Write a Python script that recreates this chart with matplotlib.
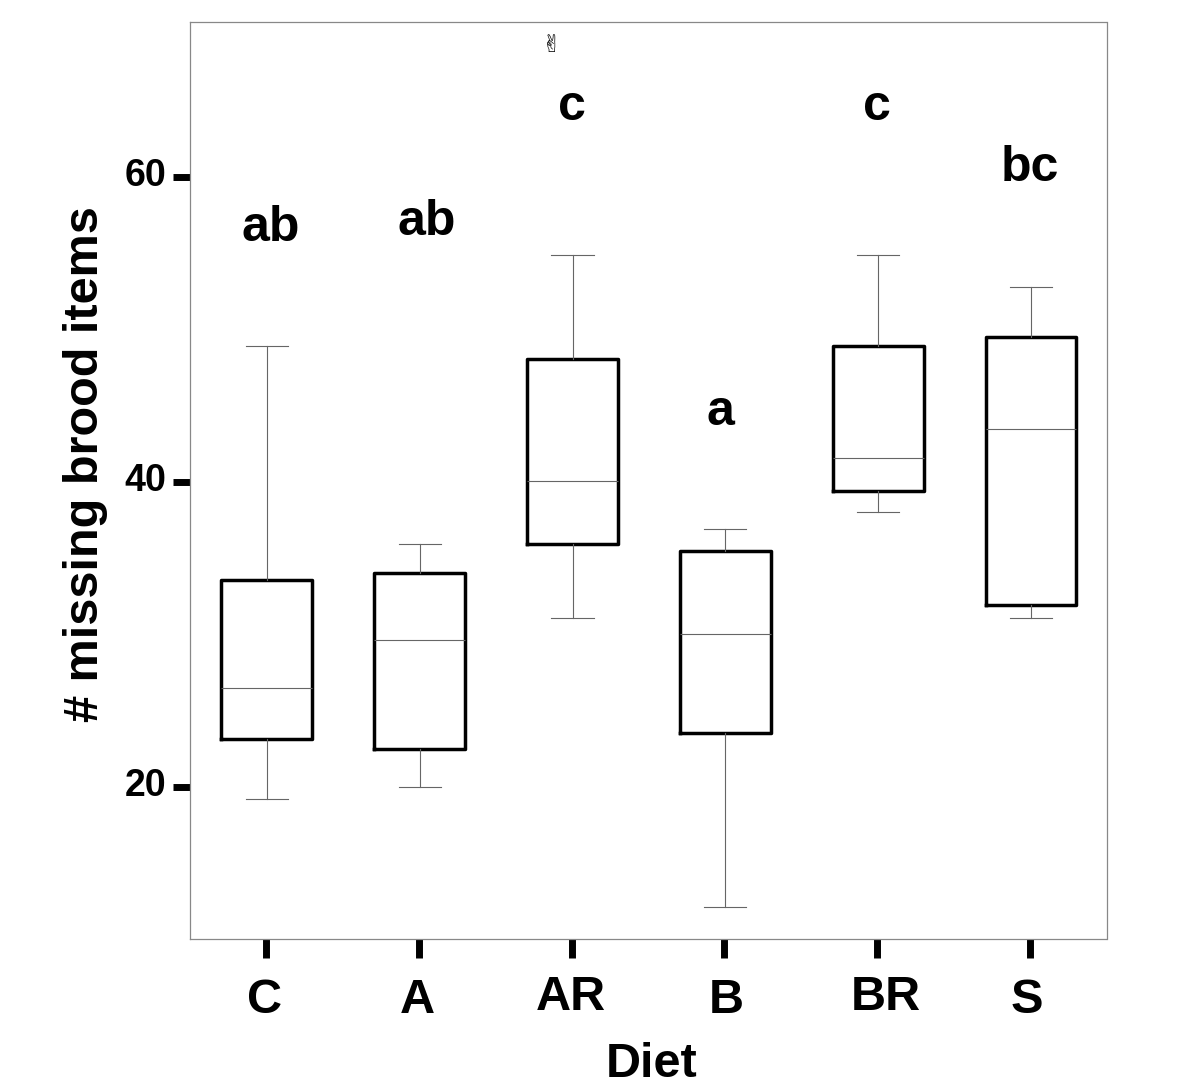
import matplotlib
matplotlib.use('Agg')
import matplotlib.pyplot as plt
from matplotlib.transforms import ScaledTranslation

diets = ['C', 'A', 'AR', 'B', 'BR', 'S']
whisker_low = [19.2, 20.0, 31.1, 12.1, 38.0, 31.1]
q1 = [23.1, 22.5, 35.9, 23.5, 39.4, 31.9]
medians = [26.5, 29.6, 40.1, 30.0, 41.6, 43.5]
q3 = [33.6, 34.0, 48.1, 35.5, 48.9, 49.5]
whisker_high = [48.9, 35.9, 54.9, 36.9, 54.9, 52.8]
letters = ['ab', 'ab', 'c', 'a', 'c', 'bc']
letter_x = [1.03, 2.055, 3.0, 3.975, 4.995, 6.0]
letter_y = [56.7, 57.1, 64.6, 44.6, 64.6, 60.6]
yticks = [20, 40, 60]

plt.rcParams['font.family'] = ['Liberation Sans', 'DejaVu Sans']

fig = plt.figure(figsize=(12, 10.91), dpi=100)
ax = fig.add_axes([189.5 / 1200, 1 - 939 / 1091, 917 / 1200, 917 / 1091])

stats = []
for i in range(len(diets)):
    stats.append({'whislo': whisker_low[i], 'q1': q1[i], 'med': medians[i],
                  'q3': q3[i], 'whishi': whisker_high[i], 'fliers': []})

x = list(range(1, len(diets) + 1))
ax.bxp(stats, positions=[p + 0.006 for p in x], widths=0.595, capwidths=0.275, showfliers=False,
       boxprops={'color': 'black', 'linewidth': 2.5},
       medianprops={'color': '#666666', 'linewidth': 0.8},
       whiskerprops={'color': '#666666', 'linewidth': 0.8},
       capprops={'color': '#666666', 'linewidth': 0.8})

for i in range(len(diets)):
    ax.text(letter_x[i], letter_y[i], letters[i], ha='center', va='center',
            fontsize=36, fontweight='bold')

ax.text(2.87, 68.66, '\u270c', ha='center', va='center', fontsize=17,
        family=['DejaVu Sans'])

ax.set_xlim(0.5, 6.5)
ax.set_ylim(10, 70.2)
ax.set_xticks(x)
ax.set_xticklabels(diets, fontsize=35, fontweight='bold')
ax.set_yticks(yticks)
ax.set_yticklabels(yticks, fontsize=27, fontweight='bold')
ax.tick_params(axis='x', length=14, width=5, pad=14)
ax.tick_params(axis='y', length=12, width=5, pad=5)

# tick labels sit a little off their ticks in the original (pixels)
x_nudge = [(-1, 0), (-1, 0), (-1, 3), (2, 0), (9, 3), (-3, 0)]
for lab, (dx, dy) in zip(ax.get_xticklabels(), x_nudge):
    lab.set_transform(lab.get_transform() + ScaledTranslation(dx / 100, dy / 100, fig.dpi_scale_trans))
for lab in ax.get_yticklabels():
    lab.set_transform(lab.get_transform() + ScaledTranslation(0, 5 / 100, fig.dpi_scale_trans))

ax.set_xlabel('Diet', fontsize=35, fontweight='bold')
ax.set_ylabel('# missing brood items', fontsize=35, fontweight='bold')
ax.xaxis.set_label_coords(0.504, -0.112)
ax.yaxis.set_label_coords(-0.089, 0.518)

for s in ax.spines.values():
    s.set_color('#888888')
    s.set_linewidth(0.9)

fig.savefig('out.png', dpi=100)
